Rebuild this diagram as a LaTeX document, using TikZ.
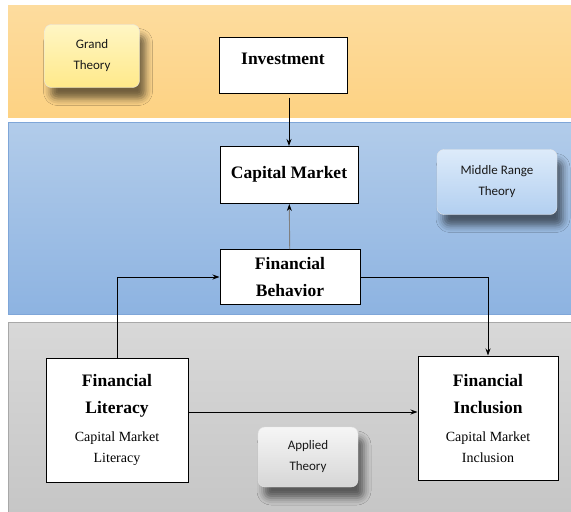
\documentclass[tikz,border=0pt]{standalone}
\usepackage{fontspec}
\setmainfont{Liberation Serif}
\newfontfamily\calibri{Carlito}
\usetikzlibrary{arrows.meta, positioning, calc, shadows.blur}
\definecolor{orangetop}{HTML}{FDDC9E}
\definecolor{orangebot}{HTML}{FDD283}
\definecolor{bluetop}{HTML}{B2CCEA}
\definecolor{bluebot}{HTML}{8DB3E1}
\definecolor{bluerule}{HTML}{7FA6D8}
\definecolor{greytop}{HTML}{D8D8D8}
\definecolor{greybot}{HTML}{C6C6C6}
\definecolor{greyrule}{HTML}{A8A8A8}
\definecolor{grandtop}{HTML}{FFF6C4}
\definecolor{grandbot}{HTML}{FFE98A}
\definecolor{middletop}{HTML}{DDEBFA}
\definecolor{middlebot}{HTML}{B2CFF0}
\definecolor{appliedtop}{HTML}{F6F6F6}
\definecolor{appliedbot}{HTML}{D6D6D6}
\tikzstyle{process} = [rectangle, draw=black, line width=1pt, fill=white, align=center, font=\bfseries\fontsize{17.5}{27}\selectfont]
\tikzstyle{theory} = [rectangle, rounded corners=7pt, draw=white!80!gray, align=center, text=black!90, font=\calibri\fontsize{13}{21}\selectfont, blur shadow={shadow xshift=6pt, shadow yshift=-11pt, shadow blur radius=7pt, shadow opacity=55}]
\tikzstyle{arrow} = [line width=0.9pt, -{Stealth[length=7pt,width=5pt]}]
\newcommand{\subtext}[1]{\normalfont\fontsize{14}{18}\selectfont #1}

\begin{document}
\begin{tikzpicture}[x=1pt, y=-1pt]

\useasboundingbox (0,0) rectangle (571,512);
\fill [white] (0,0) rectangle (571,512);

% Fasce di sfondo
\fill [top color=orangetop, bottom color=orangebot] (8,5) rectangle (571,117);
\draw [bluerule, top color=bluetop, bottom color=bluebot] (8,122) rectangle (571,314);
\draw [greyrule, top color=greytop, bottom color=greybot] (8,322) rectangle (571,514);

% Definizione dei nodi
\node (inv) [process, minimum width=128pt, minimum height=56pt, text depth=12pt] at (283,65) {Investment};
\node (cm) [process, minimum width=138pt, minimum height=57pt, text depth=6pt] at (289,175) {Capital Market};
\node (fb) [process, minimum width=140pt, minimum height=55pt] at (290,277) {Financial\\Behavior};
\node (fl) [process, minimum width=142pt, minimum height=124pt] at (117,420) {Financial\\Literacy\\[1pt]\subtext{Capital Market}\\[-6pt]\subtext{Literacy}};
\node (fi) [process, minimum width=140pt, minimum height=124pt] at (488,418) {Financial\\Inclusion\\[1pt]\subtext{Capital Market}\\[-6pt]\subtext{Inclusion}};

\node (grand) [theory, top color=grandtop, bottom color=grandbot, minimum width=95pt, minimum height=63pt] at (92,56) {Grand\\Theory};
\node (middle) [theory, top color=middletop, bottom color=middlebot, minimum width=120pt, minimum height=65pt] at (497,182) {Middle Range\\Theory};
\node (applied) [theory, top color=appliedtop, bottom color=appliedbot, minimum width=100pt, minimum height=60pt] at (308,457) {Applied\\Theory};

% Connessione tra i nodi
\draw [arrow, shorten <=4pt] (inv.south -| cm.north) -- (cm.north);
\draw [arrow, gray, -{Stealth[length=7pt,width=5pt,color=black]}] (fb) -- (cm);
\draw [arrow] (fl.north) |- (fb.west);
\draw [arrow] (fb.east) -| (fi.north);
\draw [arrow] ([yshift=8pt]fl.east) -- ([yshift=8pt]fl.east -| fi.west);

\end{tikzpicture}
\end{document}
